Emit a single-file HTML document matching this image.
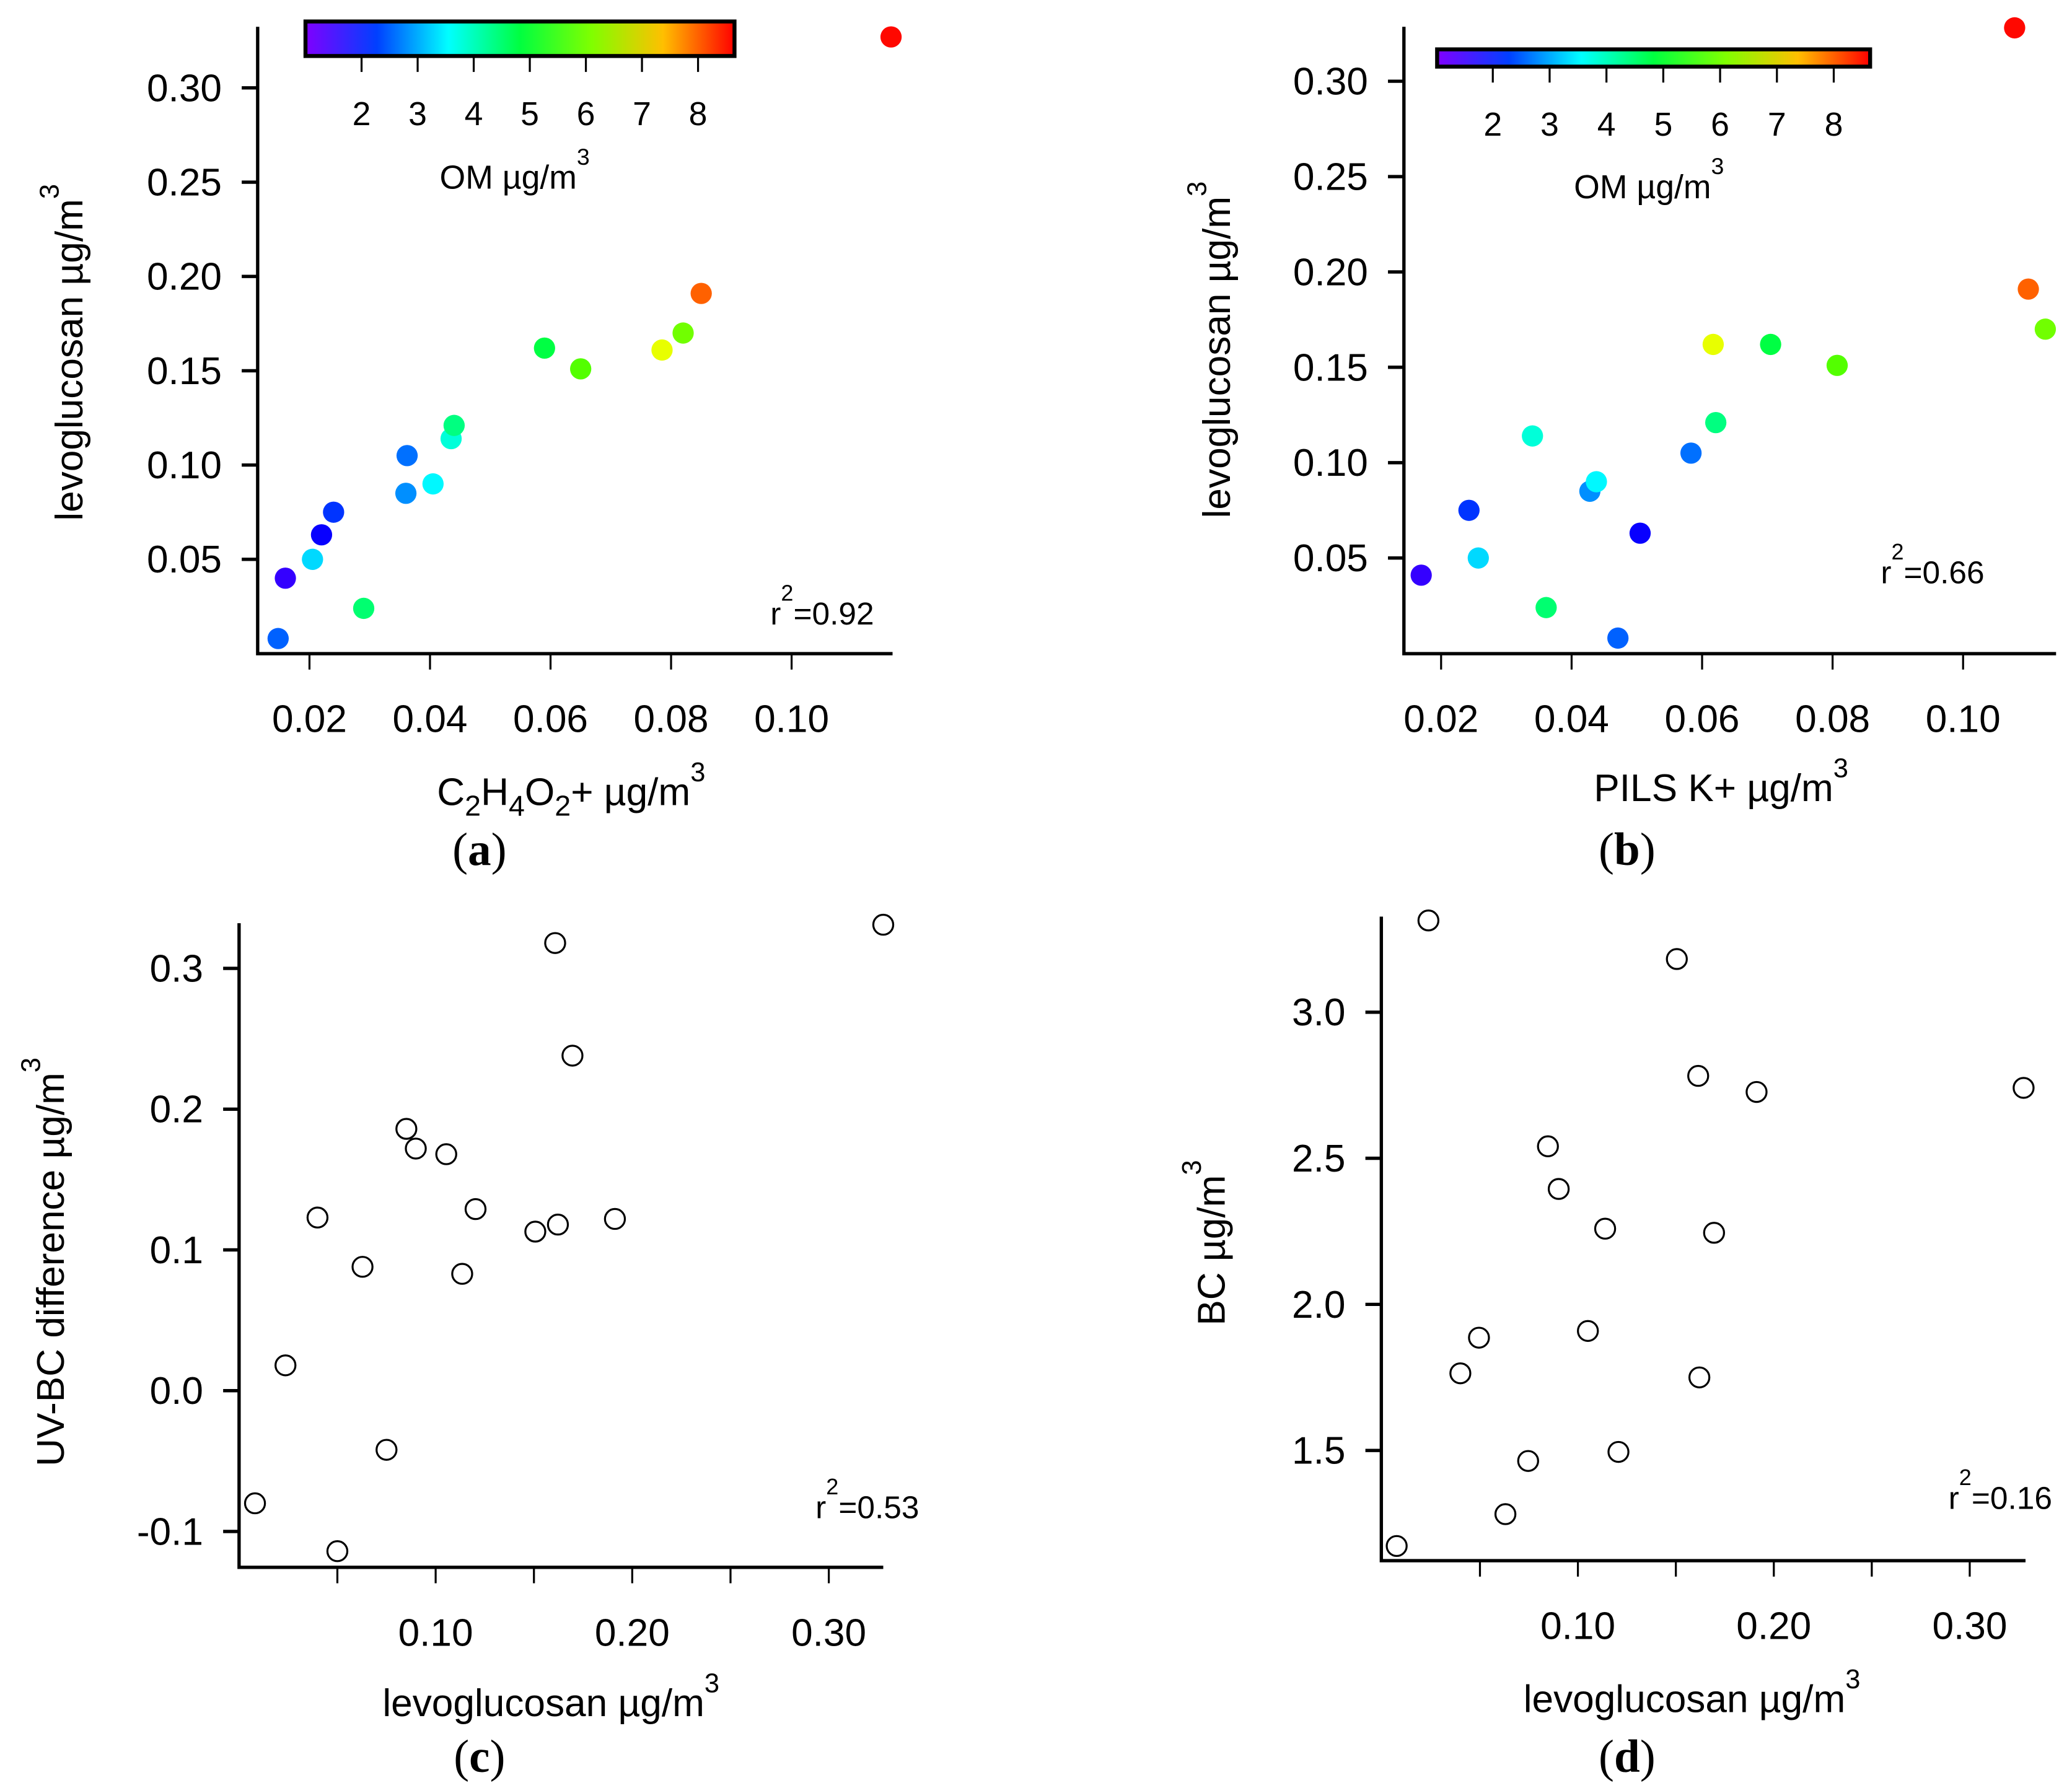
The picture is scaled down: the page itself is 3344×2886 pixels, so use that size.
<!DOCTYPE html>
<html><head><meta charset="utf-8"><style>
html,body{margin:0;padding:0;background:#fff}
svg{display:block}
text{font-family:"Liberation Sans",sans-serif;fill:#000}
</style></head><body>
<svg id="fig" xmlns="http://www.w3.org/2000/svg" width="3344" height="2886" viewBox="0 0 1560 1346">
<defs>
<linearGradient id="rb" x1="0" x2="1" y1="0" y2="0">
<stop offset="0" stop-color="hsl(270,100%,50%)"/>
<stop offset="0.1667" stop-color="hsl(225,100%,50%)"/>
<stop offset="0.3333" stop-color="hsl(180,100%,50%)"/>
<stop offset="0.5" stop-color="hsl(135,100%,50%)"/>
<stop offset="0.6667" stop-color="hsl(90,100%,50%)"/>
<stop offset="0.8333" stop-color="hsl(45,100%,50%)"/>
<stop offset="1" stop-color="hsl(0,100%,50%)"/>
</linearGradient>
</defs>
<g id="root"></g>
</svg>
<script>
// Panel a data
const aX=[0.0148,0.016,0.0205,0.022,0.024,0.029,0.036,0.0362,0.0405,0.0435,0.044,0.059,0.065,0.0785,0.082,0.085,0.1165];
const aY=[0.008,0.040,0.050,0.063,0.075,0.024,0.085,0.105,0.090,0.114,0.121,0.162,0.151,0.161,0.170,0.191,0.327];
const aOM=[2.5,1.5,3.3,1.8,2.2,4.5,2.8,2.6,3.5,3.8,4.4,4.8,5.8,6.8,6.0,8.0,8.6];
// Panel b data
const bX=[0.01695,0.02427,0.0257,0.034,0.0361,0.0428,0.0438,0.0471,0.0505,0.0583,0.0617,0.0621,0.0705,0.0807,0.1079,0.11,0.1126];
const bY=[0.041,0.075,0.050,0.114,0.024,0.085,0.090,0.008,0.063,0.105,0.162,0.121,0.162,0.151,0.328,0.191,0.170];
const bOM=[1.5,2.2,3.3,3.8,4.5,2.8,3.5,2.5,1.8,2.6,6.8,4.4,4.8,5.8,8.6,8.0,6.0];
// Panel c data
const cX=[0.0081,0.0236,0.0399,0.05,0.0628,0.075,0.0851,0.0899,0.1054,0.1135,0.1203,0.1507,0.1622,0.1696,0.1608,0.1912,0.3277];
const cY=[-0.080,0.018,0.123,-0.114,0.088,-0.042,0.186,0.172,0.168,0.083,0.129,0.113,0.118,0.238,0.318,0.122,0.331];
// Panel d data
const dX=[0.0075,0.0237,0.040,0.0495,0.063,0.0746,0.0847,0.0902,0.1051,0.1139,0.1207,0.1505,0.1614,0.162,0.1695,0.1912,0.3275];
const dY=[1.173,3.314,1.764,1.886,1.282,1.464,2.541,2.395,1.909,2.259,1.495,3.182,2.782,1.75,2.245,2.727,2.741];
// Ticks
const aXT=[0.02,0.04,0.06,0.08,0.10], aXL=["0.02","0.04","0.06","0.08","0.10"];
const abYT=[0.05,0.10,0.15,0.20,0.25,0.30], abYL=["0.05","0.10","0.15","0.20","0.25","0.30"];
const cYT=[-0.1,0,0.1,0.2,0.3], cYL=["-0.1","0.0","0.1","0.2","0.3"];
const cdXT=[0.10,0.20,0.30], cdXL=["0.10","0.20","0.30"];
const cdXMinor=[0.05,0.15,0.25];
const dYT=[1.5,2.0,2.5,3.0], dYL=["1.5","2.0","2.5","3.0"];
const cbT=[2,3,4,5,6,7,8], cbL=["2","3","4","5","6","7","8"];

const NS="http://www.w3.org/2000/svg";
const root=document.getElementById('root');
function mk(tag,attrs,parent){const e=document.createElementNS(NS,tag);for(const k in attrs)e.setAttribute(k,attrs[k]);(parent||root).appendChild(e);return e;}
function lin(d0,d1,p0,p1){return v=>p0+(v-d0)*(p1-p0)/(d1-d0);}
function omColor(v){const t=Math.max(0,Math.min(1,(v-1)/7.65));return 'hsl('+(270*(1-t))+',100%,50%)';}

function panel2(o){
  const g=mk('g',{});
  
  
  const xs=lin(o.xd[0],o.xd[1],o.px[0],o.px[1]), ys=lin(o.yd[0],o.yd[1],o.py[0],o.py[1]);
  for(let i=0;i<o.X.length;i++){
    const c=mk('circle',{cx:xs(o.X[i]),cy:ys(o.Y[i]),r:o.open?7.5:8,
      fill:o.open?'none':omColor(o.C[i]),stroke:o.open?'#000':'none','stroke-width':1.5},g);
    
    
  }
  const ax=mk('path',{d:`M${o.ax},${o.yTop}V${o.ay}H${o.xRight}`,fill:'none',stroke:'#000','stroke-width':2.5},g);
  
  
  o.xt.forEach((v,i)=>{const x=xs(v);
    mk('line',{x1:x,x2:x,y1:o.ay,y2:o.ay+12,stroke:'#000','stroke-width':1.5},g);
    const t=mk('text',{x:x,y:o.ay+59,'font-size':29,'text-anchor':'middle'},g);t.textContent=o.xl[i];
    
    });
  (o.xm||[]).forEach(v=>{const x=xs(v);mk('line',{x1:x,x2:x,y1:o.ay,y2:o.ay+12,stroke:'#000','stroke-width':1.5},g);});
  o.yt.forEach((v,i)=>{const y=ys(v);
    mk('line',{x1:o.ax-12,x2:o.ax,y1:y,y2:y,stroke:'#000','stroke-width':2.5},g);
    const t=mk('text',{x:o.ax-27,y:y+10,'font-size':29,'text-anchor':'end'},g);t.textContent=o.yl[i];
    
    });
}
function label(x,y,parts,anchor,rot,name,size){
  const t=mk('text',{x:x,y:y,'font-size':size||27,'text-anchor':anchor||'middle'});
  if(rot)t.setAttribute('transform',`rotate(-90 ${x} ${y})`);
  
  
  parts.forEach(p=>{const s=mk('tspan',{},t);s.textContent=p[0];
    if(p[1]==='sup'){s.setAttribute('dy',-18);s.setAttribute('font-size',(size||27)*0.7);}
    if(p[1]==='sub'){s.setAttribute('dy',8);s.setAttribute('font-size',(size||27)*0.75);}
    if(p[1]==='base'){s.setAttribute('dy',-8);}
    if(p[1]==='base2'){s.setAttribute('dy',18);}
  });
  return t;
}
function colorbar(x0,x1,yT,yB,v0,v1,name){
  const g=mk('g',{});
  
  
  mk('rect',{x:x0,y:yT,width:x1-x0,height:yB-yT,fill:'url(#rb)',stroke:'#000','stroke-width':3},g);
  const s=lin(v0,v1,x0,x1);
  cbT.forEach((v,i)=>{const x=s(v);
    mk('line',{x1:x,x2:x,y1:yB,y2:yB+12,stroke:'#000','stroke-width':1.5},g);
    const t=mk('text',{x:x,y:yB+52,'font-size':25,'text-anchor':'middle'},g);t.textContent=cbL[i];
    
    });
}

panel2({name:'panel-a',X:aX,Y:aY,C:aOM,xd:[0.02,0.10],px:[233,596],yd:[0.05,0.30],py:[421,66],
  ax:194,ay:492,yTop:20,xRight:672,xt:aXT,xl:aXL,yt:abYT,yl:abYL});
panel2({name:'panel-b',X:bX,Y:bY,C:bOM,xd:[0.02,0.10],px:[1085,1478],yd:[0.05,0.30],py:[420,61],
  ax:1057,ay:492,yTop:20,xRight:1548,xt:aXT,xl:aXL,yt:abYT,yl:abYL});
panel2({name:'panel-c',X:cX,Y:cY,open:true,xd:[0.10,0.30],px:[328,624],yd:[0,0.3],py:[1047,729],
  ax:180,ay:1180,yTop:695,xRight:665,xt:cdXT,xl:cdXL,xm:cdXMinor,yt:cYT,yl:cYL});
panel2({name:'panel-d',X:dX,Y:dY,open:true,xd:[0.10,0.30],px:[1188,1483],yd:[1.5,3.0],py:[1092,762],
  ax:1040,ay:1175,yTop:690,xRight:1525,xt:cdXT,xl:cdXL,xm:cdXMinor,yt:dYT,yl:dYL});

colorbar(230,553,16,42,1.0,8.65,'colorbar-a');
colorbar(1082,1408,37,50,1.02,8.64,'colorbar-b');
label(331,142,[['OM µg/m'],['3','sup']],'start',false,'colorbar-title-a',25);
label(1185,149,[['OM µg/m'],['3','sup']],'start',false,'colorbar-title-b',25);

label(62,392,[['levoglucosan µg/m'],['3','sup']],'start',true,'y-axis-title-a',29);
label(926,390,[['levoglucosan µg/m'],['3','sup']],'start',true,'y-axis-title-b',29);
label(48,1104,[['UV-BC difference µg/m'],['3','sup']],'start',true,'y-axis-title-c',29);
label(922,998,[['BC µg/m'],['3','sup']],'start',true,'y-axis-title-d',29);

label(329,606,[['C'],['2','sub'],['H','base'],['4','sub'],['O','base'],['2','sub'],['+ µg/m','base'],['3','sup']],'start',false,'x-axis-title-a',29);
label(1200,603,[['PILS K+ µg/m'],['3','sup']],'start',false,'x-axis-title-b',29);
label(288,1292,[['levoglucosan µg/m'],['3','sup']],'start',false,'x-axis-title-c',29);
label(1147,1289,[['levoglucosan µg/m'],['3','sup']],'start',false,'x-axis-title-d',29);

label(580,470,[['r'],['2','sup'],['=0.92','base2']],'start',false,'r2-label-a',24);
label(1416,439,[['r'],['2','sup'],['=0.66','base2']],'start',false,'r2-label-b',24);
label(614,1143,[['r'],['2','sup'],['=0.53','base2']],'start',false,'r2-label-c',24);
label(1467,1136,[['r'],['2','sup'],['=0.16','base2']],'start',false,'r2-label-d',24);

[['(a)',361,661],['(b)',1225,661],['(c)',361,1344],['(d)',1225,1344]].forEach(p=>{
  const t=mk('text',{x:p[1],y:p[2]-10,'font-size':35,'text-anchor':'middle'});
  t.setAttribute('style','font-family:"Liberation Serif",serif');
  
  
  const a=mk('tspan',{},t);a.textContent='(';
  const b=mk('tspan',{'font-weight':'bold'},t);b.textContent=p[0].slice(1,2);
  const c=mk('tspan',{},t);c.textContent=')';
});
</script>
</body></html>
